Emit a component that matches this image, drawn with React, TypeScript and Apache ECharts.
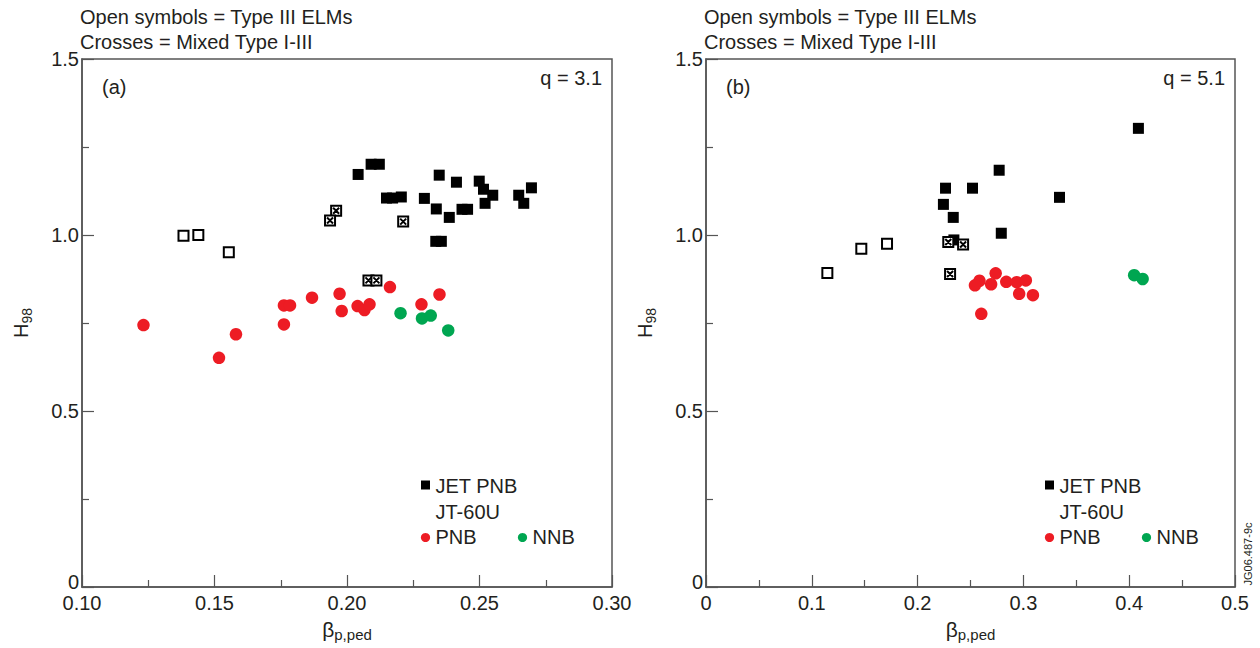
import { useEffect, useRef } from 'react';
import * as echarts from 'echarts';

const FONT = '"Liberation Sans", Arial, Helvetica, sans-serif';
const INK = '#231f20';
const FRAME = '#555555';
const RED = '#ed1c24';
const GREEN = '#00a651';

// Panel (a), q = 3.1  — [beta_p,ped, H98]
const jetPnbA = [
  [0.2042, 1.172], [0.2091, 1.201], [0.2122, 1.201], [0.2348, 1.170], [0.2413, 1.150],
  [0.2499, 1.153], [0.2515, 1.130], [0.2550, 1.113], [0.2521, 1.090], [0.2696, 1.134],
  [0.2648, 1.113], [0.2667, 1.090], [0.2149, 1.105], [0.2172, 1.105], [0.2205, 1.108],
  [0.2292, 1.104], [0.2337, 1.074], [0.2434, 1.073], [0.2455, 1.073], [0.2386, 1.050],
  [0.2335, 0.982], [0.2356, 0.982],
];
const jetTypeIIIA = [[0.1383, 0.998], [0.1439, 1.0], [0.1554, 0.951]];
const jetMixedA = [[0.1959, 1.069], [0.1936, 1.041], [0.2212, 1.038], [0.2081, 0.871], [0.2111, 0.871]];
const jt60PnbA = [
  [0.1232, 0.744], [0.1581, 0.718], [0.1517, 0.651], [0.1762, 0.746], [0.1762, 0.800],
  [0.1785, 0.800], [0.1868, 0.822], [0.1972, 0.833], [0.1980, 0.784], [0.2040, 0.798],
  [0.2066, 0.787], [0.2085, 0.803], [0.2162, 0.852], [0.2281, 0.803], [0.2349, 0.831],
];
const jt60NnbA = [[0.2202, 0.778], [0.2283, 0.763], [0.2316, 0.771], [0.2382, 0.729]];

// Panel (b), q = 5.1
const jetPnbB = [
  [0.4087, 1.303], [0.2771, 1.184], [0.2264, 1.133], [0.2519, 1.133], [0.3341, 1.107],
  [0.2244, 1.087], [0.2337, 1.050], [0.2791, 1.005], [0.2343, 0.986],
];
const jetTypeIIIB = [[0.1147, 0.892], [0.1468, 0.961], [0.1711, 0.975]];
const jetMixedB = [[0.2290, 0.980], [0.2430, 0.973], [0.2307, 0.889]];
const jt60PnbB = [
  [0.2738, 0.891], [0.2585, 0.870], [0.2542, 0.857], [0.2695, 0.860], [0.2838, 0.867],
  [0.2937, 0.866], [0.3023, 0.871], [0.2960, 0.833], [0.3090, 0.829], [0.2602, 0.776],
];
const jt60NnbB = [[0.4047, 0.886], [0.4127, 0.875]];

const panelTags = ['(a)', '(b)'];
const qLabels = ['q = 3.1', 'q = 5.1'];
const noteLines = ['Open symbols = Type III ELMs', 'Crosses = Mixed Type I-III'];
const legendTexts = ['JET PNB', 'JT-60U', 'PNB', 'NNB'];
const figureId = 'JG06.487-9c';

const CROSSED_SQUARE = 'path://M0,0H10V10H0Z M2,2L8,8 M8,2L2,8';

function scatter(data: number[][], idx: number, kind: string) {
  const base: any = {
    type: 'scatter',
    data,
    xAxisIndex: idx,
    yAxisIndex: idx,
    silent: true,
  };
  if (kind === 'filled') {
    return { ...base, symbol: 'rect', symbolSize: 11, itemStyle: { color: '#000', opacity: 1 } };
  }
  if (kind === 'open') {
    return {
      ...base, symbol: 'rect', symbolSize: 10,
      itemStyle: { color: '#fff', borderColor: '#000', borderWidth: 2, opacity: 1 },
    };
  }
  if (kind === 'crossed') {
    return {
      ...base, symbol: CROSSED_SQUARE, symbolSize: 10,
      itemStyle: { color: '#fff', borderColor: '#000', borderWidth: 2, opacity: 1 },
    };
  }
  return { ...base, symbol: 'circle', symbolSize: 12.5, itemStyle: { color: kind, opacity: 1 } };
}

function xAxis(idx: number, min: number, max: number, interval: number, digits: number) {
  return {
    gridIndex: idx,
    type: 'value',
    min, max, interval,
    axisLine: { show: true, onZero: false, lineStyle: { color: FRAME, width: 1.5 } },
    axisTick: { show: true, inside: true, length: 12, lineStyle: { color: FRAME, width: 1.2 } },
    minorTick: { show: true, splitNumber: 2, length: 7, lineStyle: { color: FRAME, width: 1.2 } },
    splitLine: { show: false },
    minorSplitLine: { show: false },
    axisLabel: {
      color: INK, fontSize: 20, fontFamily: FONT, margin: 6,
      formatter: (v: number) => (v === 0 ? '0' : v.toFixed(digits)),
    },
    name: '{b|β}{s|p,ped}',
    nameLocation: 'middle',
    nameGap: 29,
    nameTextStyle: {
      rich: {
        b: { fontSize: 21, fontFamily: FONT, color: INK, lineHeight: 26 },
        s: { fontSize: 15, fontFamily: FONT, color: INK, lineHeight: 14, verticalAlign: 'bottom' },
      },
    },
  };
}

function yAxis(idx: number) {
  return {
    gridIndex: idx,
    type: 'value',
    min: 0, max: 1.5, interval: 0.5,
    axisLine: { show: true, onZero: false, lineStyle: { color: FRAME, width: 1.5 } },
    axisTick: { show: true, inside: true, length: 12, lineStyle: { color: FRAME, width: 1.2 } },
    minorTick: { show: true, splitNumber: 2, length: 7, lineStyle: { color: FRAME, width: 1.2 } },
    splitLine: { show: false },
    minorSplitLine: { show: false },
    axisLabel: {
      color: INK, fontSize: 20, fontFamily: FONT, margin: 3,
      // the zero label sits a little above the corner, clear of the x labels
      formatter: (v: number) => (v === 0 ? '{z|0}' : v.toFixed(1)),
      rich: {
        z: { fontSize: 20, fontFamily: FONT, color: INK, padding: [0, 0, 10, 0] },
      },
    },
    name: '{h|H}{s|98}',
    nameLocation: 'middle',
    nameRotate: 90,
    nameGap: 48,
    nameTextStyle: {
      rich: {
        h: { fontSize: 20, fontFamily: FONT, color: INK, lineHeight: 26 },
        s: { fontSize: 14, fontFamily: FONT, color: INK, lineHeight: 13, verticalAlign: 'bottom' },
      },
    },
  };
}

function txt(x: number, y: number, text: string, align = 'left', size = 20, extra: any = {}) {
  return {
    type: 'text', x, y, silent: true,
    style: {
      text, fill: INK, font: `${size}px ${FONT}`,
      textAlign: align, textVerticalAlign: 'middle',
    },
    ...extra,
  };
}

function panelGraphics(left: number, right: number, legendX: number, idx: number) {
  return [
    txt(left - 2, 17, noteLines[0]),
    txt(left - 2, 42, noteLines[1]),
    txt(left + 20, 87, panelTags[idx]),
    txt(right - 10, 78, qLabels[idx], 'right'),
    { type: 'rect', silent: true, shape: { x: legendX - 4.5, y: 480.5, width: 9, height: 9 }, style: { fill: '#000' } },
    txt(legendX + 10, 486, legendTexts[0]),
    txt(legendX + 10, 512, legendTexts[1]),
    { type: 'circle', silent: true, shape: { cx: legendX, cy: 537.5, r: 4.6 }, style: { fill: RED } },
    txt(legendX + 10, 537, legendTexts[2]),
    { type: 'circle', silent: true, shape: { cx: legendX + 97, cy: 537.5, r: 4.6 }, style: { fill: GREEN } },
    txt(legendX + 107, 537, legendTexts[3]),
  ];
}

export default function App() {
  const ref = useRef<HTMLDivElement>(null);

  useEffect(() => {
    if (!ref.current) return;
    const chart = echarts.init(ref.current, undefined, { renderer: 'svg' });
    chart.setOption({
      animation: false,
      backgroundColor: '#fff',
      textStyle: { fontFamily: FONT },
      grid: [
        { left: 82, top: 59, width: 530, height: 528, show: true, borderColor: FRAME, borderWidth: 1.5, backgroundColor: 'transparent' },
        { left: 706, top: 59, width: 529, height: 528, show: true, borderColor: FRAME, borderWidth: 1.5, backgroundColor: 'transparent' },
      ],
      xAxis: [xAxis(0, 0.1, 0.3, 0.05, 2), xAxis(1, 0, 0.5, 0.1, 1)],
      yAxis: [yAxis(0), yAxis(1)],
      series: [
        scatter(jetPnbA, 0, 'filled'),
        scatter(jetTypeIIIA, 0, 'open'),
        scatter(jetMixedA, 0, 'crossed'),
        scatter(jt60PnbA, 0, RED),
        scatter(jt60NnbA, 0, GREEN),
        scatter(jetPnbB, 1, 'filled'),
        scatter(jetTypeIIIB, 1, 'open'),
        scatter(jetMixedB, 1, 'crossed'),
        scatter(jt60PnbB, 1, RED),
        scatter(jt60NnbB, 1, GREEN),
      ],
      graphic: [
        ...panelGraphics(82, 612, 425.5, 0),
        ...panelGraphics(706, 1235, 1049.5, 1),
        txt(1248, 554, figureId, 'center', 11, { rotation: Math.PI / 2 }),
      ],
    });
    return () => chart.dispose();
  }, []);

  return (
    <div
      ref={ref}
      style={{ position: 'fixed', left: 0, top: 0, width: 1260, height: 648, background: '#fff' }}
    />
  );
}
